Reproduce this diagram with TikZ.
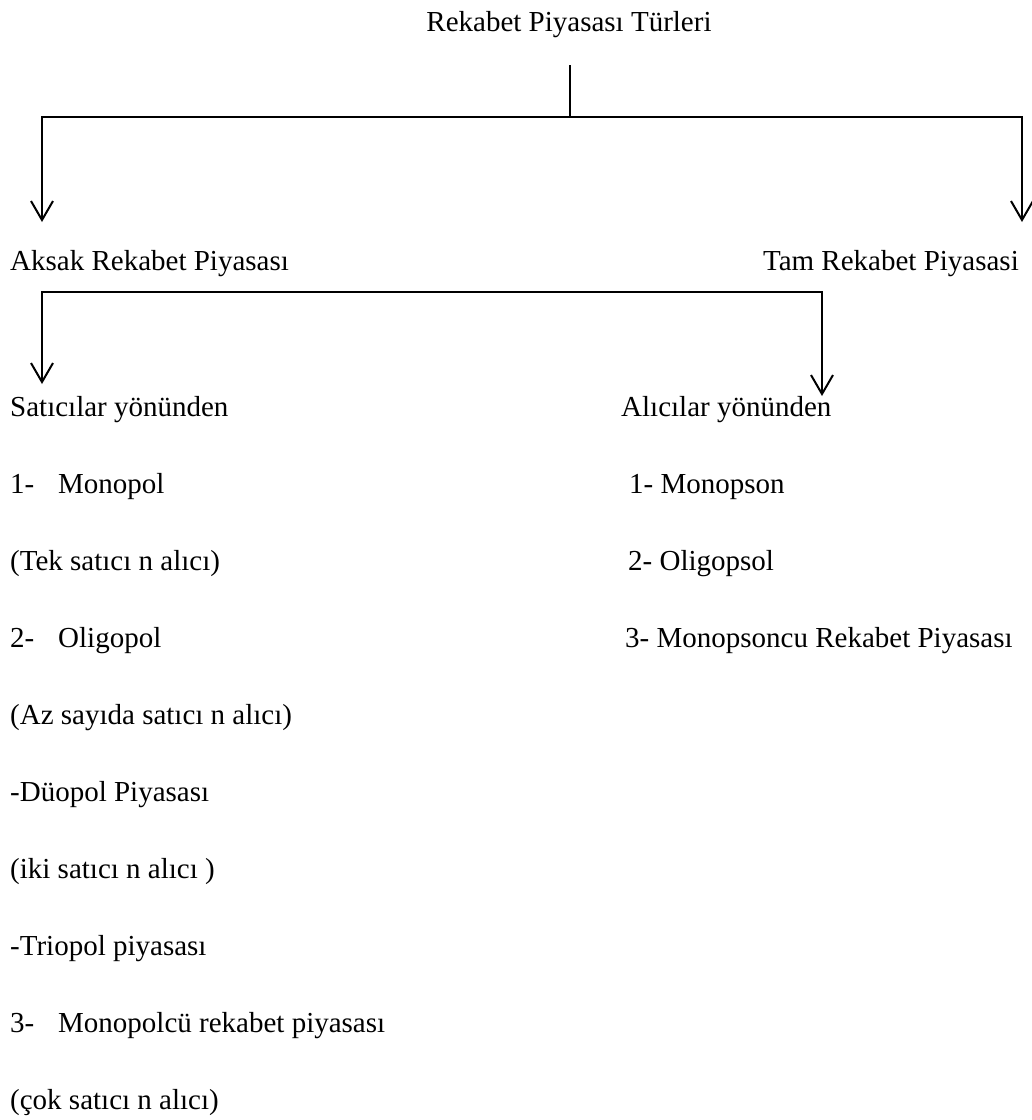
\documentclass[tikz,border=0pt]{standalone}
\usepackage{fontspec}
\setmainfont{Liberation Serif}
\usepackage{tikz}
\usetikzlibrary{arrows.meta,positioning,calc}

\begin{document}
\begin{tikzpicture}[
    x=1pt, y=-1pt,
    metin/.style={anchor=base west, inner sep=0pt, font=\fontsize{29}{34}\selectfont},
    baslik/.style={anchor=base, inner sep=0pt, font=\fontsize{29}{34}\selectfont},
    dal/.style={line width=2pt},
    ok/.style={line width=2pt, -{Straight Barb[length=19pt,width=22pt]}},
    ciftok/.style={line width=2pt, {Straight Barb[length=19pt,width=22pt]}-{Straight Barb[length=19pt,width=22pt]}}
]
\useasboundingbox (0,0) rectangle (1032,1120);

% Top
\node[baslik] (turler) at (569,31) {Rekabet Piyasası Türleri};

% First level
\node[metin] (aksak) at (10,270) {Aksak Rekabet Piyasası};
\node[metin, anchor=base east] (tam) at (1019,270) {Tam Rekabet Piyasasi};

% Second level
\node[metin] (satici) at (10,416) {Satıcılar yönünden};
\node[metin] (alici) at (621,416) {Alıcılar yönünden};

% Sellers side
\node[metin] (monopol) at (10,493) {\makebox[48pt][l]{1-}Monopol};
\node[metin] (tek) at (10,570) {(Tek satıcı n alıcı)};
\node[metin] (oligopol) at (10,647) {\makebox[48pt][l]{2-}Oligopol};
\node[metin] (az) at (10,724) {(Az sayıda satıcı n alıcı)};
\node[metin] (duopol) at (10,801) {-Düopol Piyasası};
\node[metin] (iki) at (10,878) {(iki satıcı n alıcı )};
\node[metin] (triopol) at (10,955) {-Triopol piyasası};
\node[metin] (monopolcu) at (10,1032) {\makebox[48pt][l]{3-}Monopolcü rekabet piyasası};
\node[metin] (cok) at (10,1109) {(çok satıcı n alıcı)};

% Buyers side
\node[metin] (monopson) at (629,493) {1- Monopson};
\node[metin] (oligopsol) at (628,570) {2- Oligopsol};
\node[metin] (monopsoncu) at (625,647) {3- Monopsoncu Rekabet Piyasası};

% Branch points
\coordinate (ust) at (570,65);
\coordinate (catal) at (570,117);
\coordinate (aksakUc) at (42,222);
\coordinate (tamUc) at (1022,222);
\coordinate (kose) at (42,292);
\coordinate (saticiUc) at (42,384);
\coordinate (aliciUc) at (822,396);

% Relationships
\draw[dal] (ust) -- (catal);
\draw[ok] (catal) -| (aksakUc);
\draw[ok] (catal) -| (tamUc);
\draw[ciftok] (saticiUc) -- (kose) -| (aliciUc);

\end{tikzpicture}
\end{document}
